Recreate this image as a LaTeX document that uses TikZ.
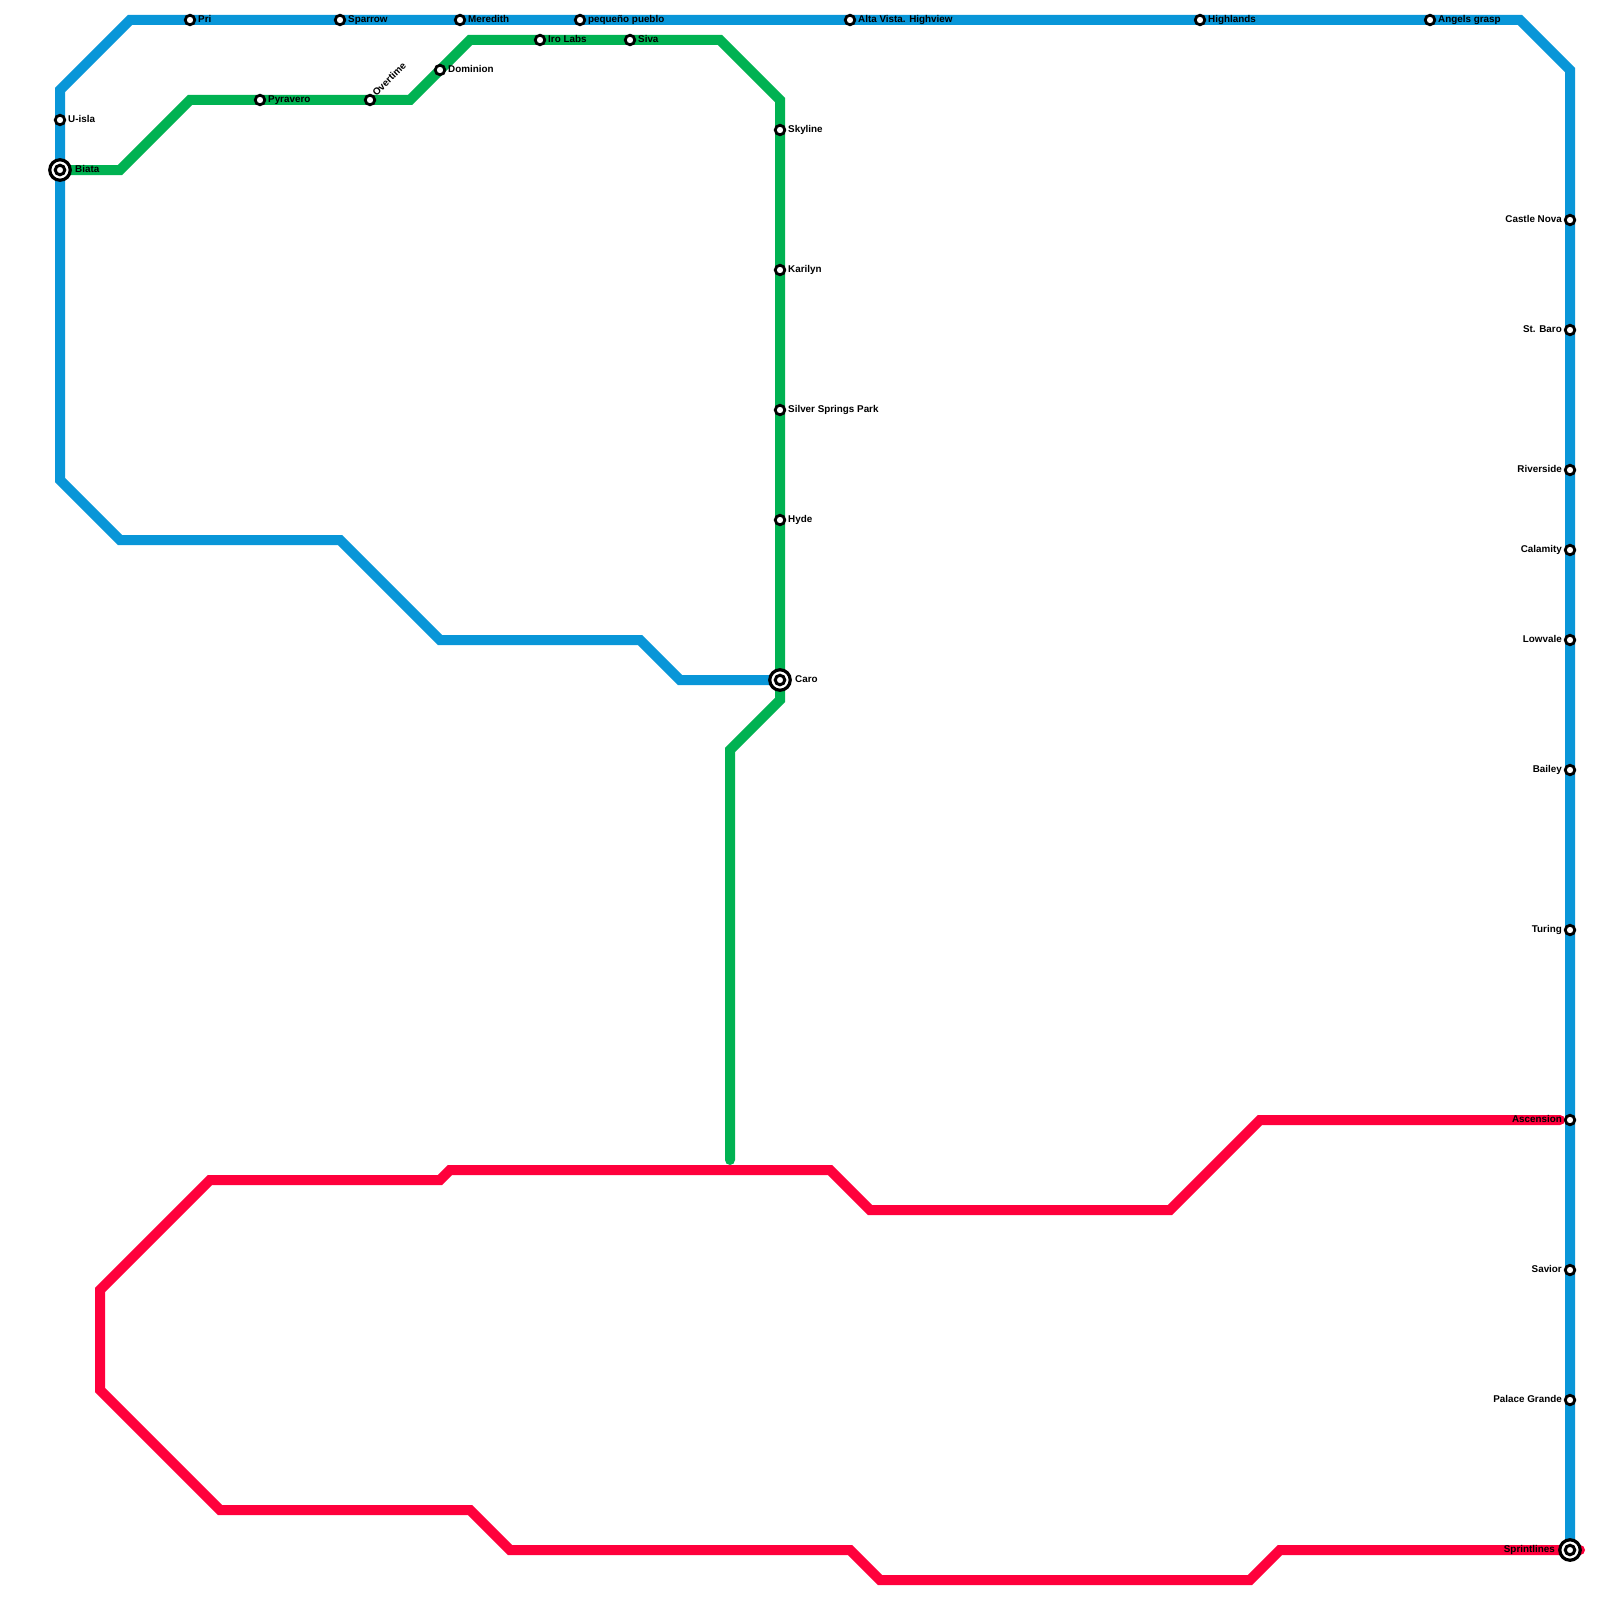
\documentclass[tikz,border=0pt]{standalone}
\usepackage{fontspec}
\setmainfont{Liberation Sans}
\definecolor{lblue}{HTML}{0996D8}
\definecolor{lgreen}{HTML}{00B252}
\definecolor{lred}{HTML}{FF003C}
\tikzset{
  x=1pt,y=-1pt,
  metro/.style={line width=10pt,line cap=round,line join=miter,miter limit=10},
  stop/.style={circle,draw=black,fill=white,line width=2.8pt,minimum size=9.5pt,inner sep=0pt},
  hubouter/.style={circle,draw=black,fill=white,line width=3.2pt,minimum size=20.5pt,inner sep=0pt},
  hubinner/.style={circle,draw=black,fill=white,line width=3pt,minimum size=9.5pt,inner sep=0pt},
  lbl/.style={font=\bfseries\fontsize{9.85pt}{10pt}\selectfont,text=black,inner sep=0pt},
  lblr/.style={lbl,anchor=mid west},
  lbll/.style={lbl,anchor=mid east},
}
\newcommand{\stopR}[4]{\node[stop] (#1) at (#2,#3) {}; \node[lblr] (#1t) at ([xshift=8pt,yshift=-0.2pt]#1.center) {#4};}
\newcommand{\stopL}[4]{\node[stop] (#1) at (#2,#3) {}; \node[lbll] (#1t) at ([xshift=-8pt,yshift=-0.2pt]#1.center) {#4};}
\begin{document}
\begin{tikzpicture}
\useasboundingbox (0,0) rectangle (1600,1600);
\fill[white] (0,0) rectangle (1600,1600);
\coordinate (greenend) at (730,1160);
\coordinate (redA) at (1560,1120);
\coordinate (redB) at (1580,1550);
\coordinate (blueCaro) at (780,680);
\coordinate (blueEnd) at (1570,1550);
\coordinate (greenBiata) at (60,170);
% lines
\draw[metro,lgreen] (greenBiata) -- (120,170) -- (190,100) -- (410,100) -- (470,40) -- (720,40) -- (780,100) -- (780,700) -- (730,750) -- (greenend);
\draw[metro,lred] (redA) -- (1260,1120) -- (1170,1210) -- (870,1210) -- (830,1170) -- (450,1170) -- (440,1180) -- (210,1180) -- (100,1290) -- (100,1390) -- (220,1510) -- (470,1510) -- (510,1550) -- (850,1550) -- (880,1580) -- (1250,1580) -- (1280,1550) -- (redB);
\draw[metro,lblue] (blueCaro) -- (680,680) -- (640,640) -- (440,640) -- (340,540) -- (120,540) -- (60,480) -- (60,90) -- (130,20) -- (1520,20) -- (1570,70) -- (blueEnd);
% top blue
\stopR{pri}{190}{20}{Pri}
\stopR{sparrow}{340}{20}{Sparrow}
\stopR{meredith}{460}{20}{Meredith}
\stopR{pequeno}{580}{20}{pequeño pueblo}
\stopR{alta}{850}{20}{Alta Vista. Highview}
\stopR{highlands}{1200}{20}{Highlands}
\stopR{angels}{1430}{20}{Angels grasp}
\stopR{uisla}{60}{120}{U-isla}
% green
\stopR{pyravero}{260}{100}{Pyravero}
\node[stop] (overtime) at (370,100) {};
\node[lbl,anchor=mid west,rotate=45] (overtimet) at ([xshift=4.5pt,yshift=5pt]overtime.center) {Overtime};
\stopR{dominion}{440}{70}{Dominion}
\stopR{iro}{540}{40}{Iro Labs}
\stopR{siva}{630}{40}{Siva}
\stopR{skyline}{780}{130}{Skyline}
\stopR{karilyn}{780}{270}{Karilyn}
\stopR{silver}{780}{410}{Silver Springs Park}
\stopR{hyde}{780}{520}{Hyde}
% right
\stopL{castle}{1570}{220}{Castle Nova}
\stopL{baro}{1570}{330}{St. Baro}
\stopL{riverside}{1570}{470}{Riverside}
\stopL{calamity}{1570}{550}{Calamity}
\stopL{lowvale}{1570}{640}{Lowvale}
\stopL{bailey}{1570}{770}{Bailey}
\stopL{turing}{1570}{930}{Turing}
\stopL{ascension}{1570}{1120}{Ascension}
\stopL{savior}{1570}{1270}{Savior}
\stopL{palace}{1570}{1400}{Palace Grande}
% hubs
\node[hubouter] (biata) at (60,170) {};
\node[hubinner] (biatai) at (biata.center) {};
\node[lblr] (biatat) at ([xshift=15pt,yshift=-0.2pt]biata.center) {Biata};
\node[hubouter] (caro) at (780,680) {};
\node[hubinner] (caroi) at (caro.center) {};
\node[lblr] (carot) at ([xshift=15pt,yshift=-0.2pt]caro.center) {Caro};
\node[hubouter] (sprint) at (1570,1550) {};
\node[hubinner] (sprinti) at (sprint.center) {};
\node[lbll] (sprintt) at ([xshift=-15pt,yshift=-0.2pt]sprint.center) {Sprintlines};
\end{tikzpicture}
\end{document}
